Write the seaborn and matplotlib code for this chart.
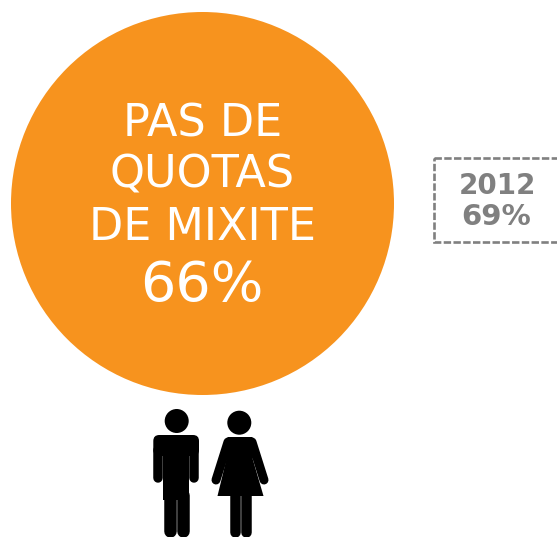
import matplotlib
matplotlib.use("Agg")
import matplotlib.pyplot as plt
import pandas as pd
import seaborn as sns
from matplotlib.patches import Circle, Polygon, FancyBboxPatch, Rectangle

# data
label_lines = ["PAS DE", "QUOTAS", "DE MIXITE"]
share_now = ["66%"]
prev_year = ["2012"]
share_prev = ["69%"]

orange = "#F7931E"
gray = "#808080"

sns.set_theme(style="white")
plt.rcParams['font.family'] = ['DejaVu Sans']

fig, ax = plt.subplots(figsize=(5.57, 5.37), dpi=100)
fig.subplots_adjust(0, 0, 1, 1)

# the big disc, size in points^2 (384 px across)
df = pd.DataFrame({'x': [201.7], 'y': [202.7]})
d_pt = 383 * 72 / 100
sns.scatterplot(data=df, x='x', y='y', s=d_pt ** 2, color=orange, linewidth=0, ax=ax, legend=False)

ax.set_xlim(0, 557)
ax.set_ylim(537, 0)
ax.axis('off')

# text in the disc
for line, y in zip(label_lines, [124, 175, 227]):
    ax.text(202.5, y, line, color='white', fontsize=32, ha='center', va='center')
ax.text(202, 286, share_now[0], color='white', fontsize=40, ha='center', va='center')

# dashed box, runs off the right edge
ax.add_patch(Rectangle((433.5, 157.5), 140, 84, fill=False, edgecolor=gray, linewidth=1.9, linestyle=(0, (2.8, 0.9))))
ax.text(497, 186, prev_year[0], color=gray, fontsize=20, fontweight='bold', ha='center', va='center')
ax.text(496, 217, share_prev[0], color=gray, fontsize=21, fontweight='bold', ha='center', va='center')


def limb(x0, y0, x1, y1, width_px):
    ax.plot([x0, x1], [y0, y1], color='black', lw=width_px * 0.72, solid_capstyle='round')


# man
ax.add_patch(Circle((176.7, 421), 12, color='black', lw=0))
ax.add_patch(FancyBboxPatch((153.3, 435), 45.7, 21, boxstyle="round,pad=0,rounding_size=6", fc='black', ec='none'))
ax.add_patch(Rectangle((163.3, 445), 26, 55, color='black', lw=0))
limb(158, 450, 158, 477.5, 9.5)
limb(194.3, 450, 194.3, 477.5, 9.5)
limb(169.6, 495, 169.6, 530.7, 12.5)
limb(183, 495, 183, 530.7, 12.5)

# woman
ax.add_patch(Circle((239.3, 422.7), 12, color='black', lw=0))
ax.add_patch(Polygon([(224, 441), (228, 437), (252, 437), (256, 441), (252.7, 459), (263.5, 496), (217.5, 496), (226.7, 458)],
                     closed=True, fc='black', ec='none'))
limb(228, 442, 216, 480, 9)
limb(252, 442, 264, 480, 9)
limb(234.6, 494, 234.6, 532, 10.5)
limb(246, 494, 246, 532, 10.5)

plt.savefig("out.png", dpi=100)
